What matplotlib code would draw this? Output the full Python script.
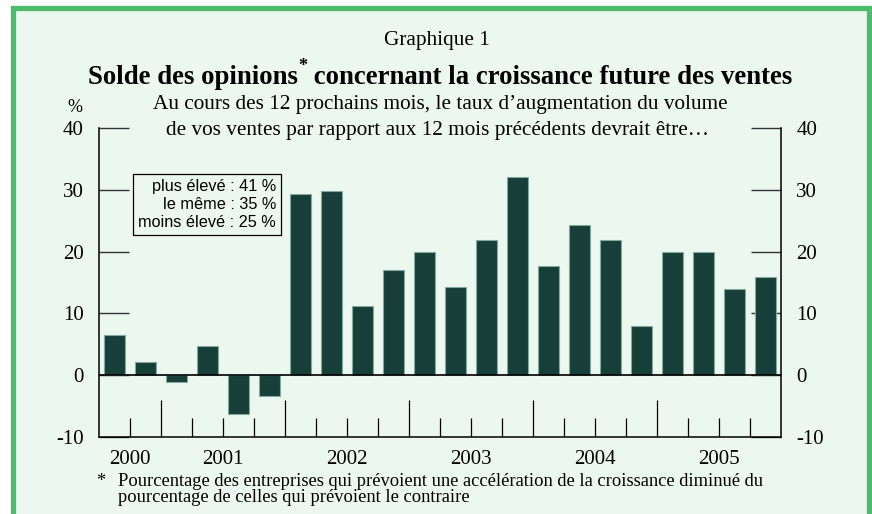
import matplotlib
matplotlib.use("Agg")
import matplotlib.pyplot as plt
from matplotlib.patches import Rectangle
import numpy as np

# ---- data ----
values = [6.5, 2.1, -1.1, 4.7, -6.2, -3.3, 29.3, 29.8, 11.2, 17.0, 20.0,
          14.2, 21.8, 32.0, 17.7, 24.3, 21.8, 7.9, 20.0, 20.0, 13.9, 15.9]
years = ["2000", "2001", "2002", "2003", "2004", "2005"]
bars_per_year = [2, 4, 4, 4, 4, 4]
yticks = [-10, 0, 10, 20, 30, 40]
legend_lines = ["plus élevé : 41 %", "le même : 35 %", "moins élevé : 25 %"]

BG = "#ecf7ef"
GREEN = "#4dbd6c"
BAR = "#163f3a"
SERIF = "Liberation Serif"
SANS = "Liberation Sans"

W, H = 872, 514
fig = plt.figure(figsize=(W / 100, H / 100), dpi=100, facecolor="white")

# frame
fig.patches.append(Rectangle((12.5 / W, -0.05), (869 - 12.5) / W, 1.05 - 7.5 / H,
                             transform=fig.transFigure, facecolor=BG, edgecolor=GREEN,
                             linewidth=3.8, zorder=-5))

ax = fig.add_axes([99 / W, (514 - 437) / H, 682 / W, 309 / H])
ax.set_zorder(2)
ax.set_facecolor("none")
n = len(values)
x = np.arange(n) + 0.5
ax.bar(x, values, width=0.65, color=BAR, edgecolor="#84aaa0", linewidth=0.8, zorder=3)
ax.set_xlim(0, n)
ax.set_ylim(-10, 40)
ax.axhline(0, color="black", lw=1.2, zorder=4)

# quarter separators
bounds = np.arange(1, n)
year_bounds = np.cumsum(bars_per_year)[:-1]
for b in bounds:
    top = -4 if b in year_bounds else -7
    ax.vlines(b, -10, top, color="black", lw=0.9, zorder=2)

# year labels
starts = np.concatenate([[0], np.cumsum(bars_per_year)[:-1]])
centers = starts + np.array(bars_per_year) / 2
ax.set_xticks(centers)
ax.set_xticklabels(years, fontfamily=SERIF, fontsize=15)
ax.tick_params(axis="x", length=0, pad=9)

ax.set_yticks(yticks)
ax.set_yticklabels([str(v) for v in yticks], fontfamily=SERIF, fontsize=15)
ax.tick_params(axis="y", direction="in", length=21.5, width=1.0, pad=11,
               left=True, right=True, labelleft=True, labelright=True, color="#333333")
ax.spines["top"].set_visible(False)
for s in ["left", "right", "bottom"]:
    ax.spines[s].set_linewidth(1.1)

# legend box
ax.text((276 - 99) / 682, (437 - 179) / 309, "\n".join(legend_lines), transform=ax.transAxes,
        ha="right", va="top", fontfamily=SANS, fontsize=11.7, linespacing=1.26,
        multialignment="right", zorder=5,
        bbox=dict(boxstyle="square,pad=0.32", facecolor=BG, edgecolor="black", linewidth=0.9))

# titles
fig.text(437 / W, 1 - 40 / H, "Graphique 1", ha="center", va="center",
         fontfamily=SERIF, fontsize=15.3)
fig.text(75 / W, 1 - 107 / H, "%", ha="center", va="center", fontfamily=SERIF, fontsize=13)
fig.text(440 / W, 1 - 104 / H, "Au cours des 12 prochains mois, le taux d\u2019augmentation du volume",
         ha="center", va="center", fontfamily=SERIF, fontsize=15.3)
fig.text(437 / W, 1 - 130 / H, "de vos ventes par rapport aux 12 mois précédents devrait être\u2026",
         ha="center", va="center", fontfamily=SERIF, fontsize=15.3)

# bold title with superscript asterisk
fig.canvas.draw()
r = fig.canvas.get_renderer()
ty = 1 - 84 / H
p1 = "Solde des opinions"
p2 = " concernant la croissance future des ventes"
kw = dict(fontfamily=SERIF, fontsize=19.3, fontweight="bold", va="baseline", ha="left")
t1 = fig.text(0, ty, p1, **kw)
t2 = fig.text(0, ty, p2, **kw)
ts = fig.text(0, ty, "*", fontfamily=SERIF, fontsize=13, fontweight="bold", va="baseline", ha="left")
w1 = t1.get_window_extent(r).width / W
w2 = t2.get_window_extent(r).width / W
ws = ts.get_window_extent(r).width / W
x0 = 440 / W - (w1 + ws + w2) / 2
t1.set_x(x0)
ts.set_x(x0 + w1)
ts.set_y(ty + 13 / H)
t2.set_x(x0 + w1 + ws)

# footnote
fig.text(101 / W, 1 - 481 / H, "*", ha="center", va="center", fontfamily=SERIF, fontsize=13.3)
fig.text(118 / W, 1 - 481 / H,
         "Pourcentage des entreprises qui prévoient une accélération de la croissance diminué du",
         ha="left", va="center", fontfamily=SERIF, fontsize=13.3)
fig.text(118 / W, 1 - 498 / H, "pourcentage de celles qui prévoient le contraire",
         ha="left", va="center", fontfamily=SERIF, fontsize=13.3)

fig.savefig("out.png", dpi=100, facecolor="white")
